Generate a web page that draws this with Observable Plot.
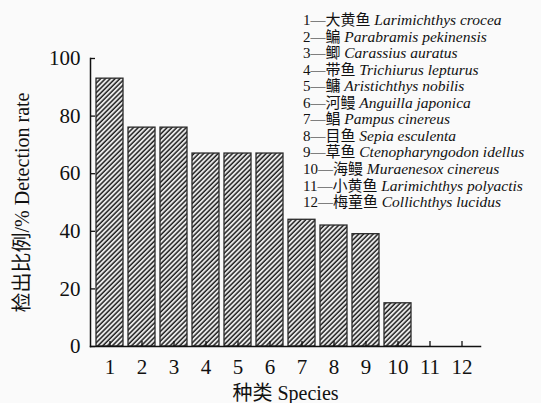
<!DOCTYPE html>
<html><head><meta charset="utf-8">
<script src="https://cdn.jsdelivr.net/npm/d3@7"></script>
<script src="https://cdn.jsdelivr.net/npm/@observablehq/plot@0.6"></script>
<style>
body{margin:0;background:#fff;}
</style>
</head><body>
<div id="chart"></div>
<script>
const species = ["1","2","3","4","5","6","7","8","9","10","11","12"];
const rates = [93, 76, 76, 67, 67, 67, 44, 42, 39, 15, 0, 0];
const yTicks = [0, 20, 40, 60, 80, 100];
const chineseNames = ["大黄鱼","鳊","鲫","带鱼","鳙","河鳗","鲳","目鱼","草鱼","海鳗","小黄鱼","梅童鱼"];
const latinNames = ["Larimichthys crocea","Parabramis pekinensis","Carassius auratus","Trichiurus lepturus","Aristichthys nobilis","Anguilla japonica","Pampus cinereus","Sepia esculenta","Ctenopharyngodon idellus","Muraenesox cinereus","Larimichthys polyactis","Collichthys lucidus"];
const yTitle = "检出比例/% Detection rate";
const xTitle = "种类 Species";

const data = species.map((s, i) => ({species: s, rate: rates[i]}));
const font = "'Liberation Serif', 'Noto Sans CJK SC', serif";

const chart = Plot.plot({
  width: 541, height: 403,
  marginLeft: 90, marginRight: 61, marginTop: 58, marginBottom: 57,
  style: {fontFamily: font, fontSize: "20px", background: "#fafafa", color: "#111"},
  x: {domain: species, padding: 0.17, label: null},
  y: {domain: [0, 100], label: null},
  marks: [
    Plot.barY(data, {x: "species", y: "rate", fill: "url(#hatch)", stroke: "#2a2a2a", strokeWidth: 1.3}),
    Plot.axisY({ticks: yTicks, tickSize: -5, tickPadding: 15, label: null, fontSize: 21, stroke: "#111", strokeWidth: 1.3}),
    Plot.axisX({tickSize: -5, tickPadding: 18, label: null, fontSize: 21, stroke: "#111", strokeWidth: 1.3}),
    Plot.frame({anchor: "left", stroke: "#111", strokeWidth: 1.5}),
    Plot.frame({anchor: "bottom", stroke: "#111", strokeWidth: 1.5}),
    Plot.text([yTitle], {frameAnchor: "left", dx: -68, rotate: -90, textAnchor: "middle", lineAnchor: "middle", fontSize: 20, fill: "#111"}),
    Plot.text([xTitle], {frameAnchor: "bottom", dy: 47, textAnchor: "middle", lineAnchor: "middle", fontSize: 20, fill: "#111"})
  ]
});

const svg = chart.tagName.toLowerCase() === "svg" ? chart : chart.querySelector("svg");
const defs = d3.select(svg).insert("defs", ":first-child");
const pat = defs.append("pattern").attr("id", "hatch")
  .attr("patternUnits", "userSpaceOnUse").attr("width", 3.4).attr("height", 3.4)
  .attr("patternTransform", "rotate(45)");
pat.append("rect").attr("width", 3.4).attr("height", 3.4).attr("fill", "#eeeeee");
pat.append("line").attr("x1", 1).attr("y1", 0).attr("x2", 1).attr("y2", 3.4)
  .attr("stroke", "#1e1e1e").attr("stroke-width", 1.5);

const legend = d3.select(svg).append("g")
  .attr("font-family", font).attr("font-size", 15).attr("fill", "#111")
  .attr("text-anchor", "start");
species.forEach((s, i) => {
  const t = legend.append("text").attr("x", 303).attr("y", 25 + i * 16.55);
  t.append("tspan").text(s + "—" + chineseNames[i] + " ");
  t.append("tspan").attr("font-style", "italic").attr("font-size", 15.5).text(latinNames[i]);
});

document.getElementById("chart").appendChild(chart);
</script>
</body></html>
